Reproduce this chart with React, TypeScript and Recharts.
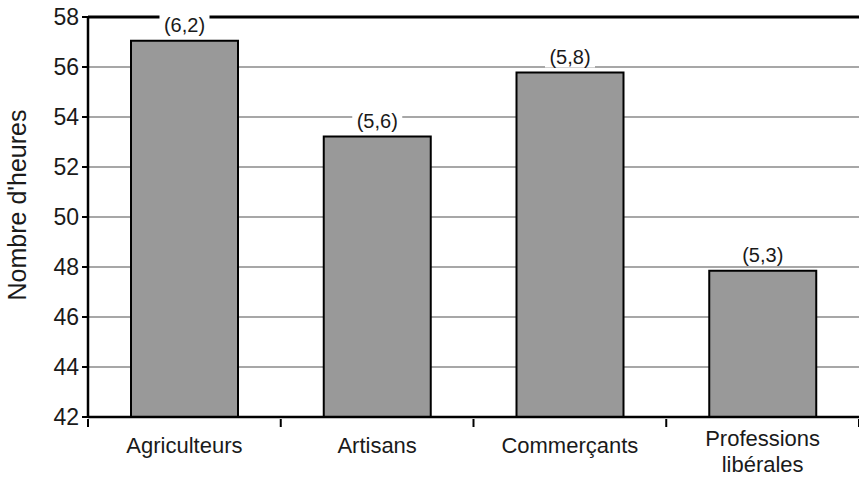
import { BarChart, Bar, XAxis, YAxis, CartesianGrid, LabelList, Label } from "recharts";

const categories = ["Agriculteurs", "Artisans", "Commerçants", "Professions libérales"];
const hours = [57.05, 53.22, 55.78, 47.85];
const spreads = [6.2, 5.6, 5.8, 5.3];
const yTicks = [42, 44, 46, 48, 50, 52, 54, 56, 58];

const data = categories.map((name, i) => ({ name, hours: hours[i], spread: spreads[i] }));

const FONT = "'Liberation Sans', Arial, sans-serif";
const INK = "#1a1a1a";

const GridLine = (p: any) => {
  const top = p.index === yTicks.length - 1;
  return (
    <line
      key={p.key}
      x1={p.x1}
      x2={p.x2}
      y1={p.y1}
      y2={p.y2}
      stroke={top ? "#000" : "#8a8a8a"}
      strokeWidth={top ? 3 : 1.5}
    />
  );
};

const CategoryTick = (p: any) => {
  const { x, y, payload, index } = p;
  const half = payload.offset || 96.4;
  const words = payload.value.split(" ");
  const lines = payload.value.length > 12 && words.length > 1 ? words : [payload.value];
  // two-line labels start a bit higher so the second line stays inside the frame
  const first = lines.length > 1 ? 21 : 28;
  return (
    <g>
      <line x1={x - half} x2={x - half} y1={y - 6} y2={y + 2} stroke="#000" strokeWidth={2} />
      {index === categories.length - 1 && (
        <line x1={x + half} x2={x + half} y1={y - 6} y2={y + 2} stroke="#000" strokeWidth={2} />
      )}
      <text textAnchor="middle" fontFamily={FONT} fontSize={22} fill={INK}>
        {lines.map((l: string, i: number) => (
          <tspan key={i} x={x} y={y + first + i * 25.5}>{l}</tspan>
        ))}
      </text>
    </g>
  );
};

const SpreadLabel = (p: any) => {
  const { x, y, width, value } = p;
  const cx = x + width / 2;
  const cy = y - 16;
  const txt = `(${String(value).replace(".", ",")})`;
  return (
    <g>
      <rect x={cx - 25} y={cy - 11} width={50} height={22} fill="#fff" />
      <text x={cx} y={cy + 7} textAnchor="middle" fontFamily={FONT} fontSize={20} fill={INK}>{txt}</text>
    </g>
  );
};

export default function App() {
  return (
    <div style={{ position: "absolute", left: 0, top: 0, background: "#fff" }}>
      <BarChart width={859} height={477} data={data} margin={{ top: 17, right: 0, left: 0, bottom: 0 }}>
        <CartesianGrid vertical={false} horizontal={GridLine as any} />
        <XAxis
          dataKey="name"
          height={60}
          axisLine={{ stroke: "#000", strokeWidth: 2.5 }}
          tickLine={false}
          tick={<CategoryTick />}
          interval={0}
        />
        <YAxis
          width={88}
          domain={[42, 58]}
          ticks={yTicks}
          interval={0}
          axisLine={{ stroke: "#000", strokeWidth: 2.5 }}
          tickLine={{ stroke: "#000", strokeWidth: 2 }}
          tickSize={6}
          tickMargin={3}
          tick={{ fontFamily: FONT, fontSize: 23, fill: INK }}
        >
          <Label
            content={() => (
              <text
                x={17}
                y={205}
                transform="rotate(-90 17 205)"
                textAnchor="middle"
                dominantBaseline="central"
                fontFamily={FONT}
                fontSize={25}
                fill={INK}
              >
                Nombre d'heures
              </text>
            )}
          />
        </YAxis>
        <Bar dataKey="hours" fill="#999999" stroke="#000" strokeWidth={2} barSize={107} isAnimationActive={false}>
          <LabelList dataKey="spread" content={<SpreadLabel />} />
        </Bar>
      </BarChart>
    </div>
  );
}
